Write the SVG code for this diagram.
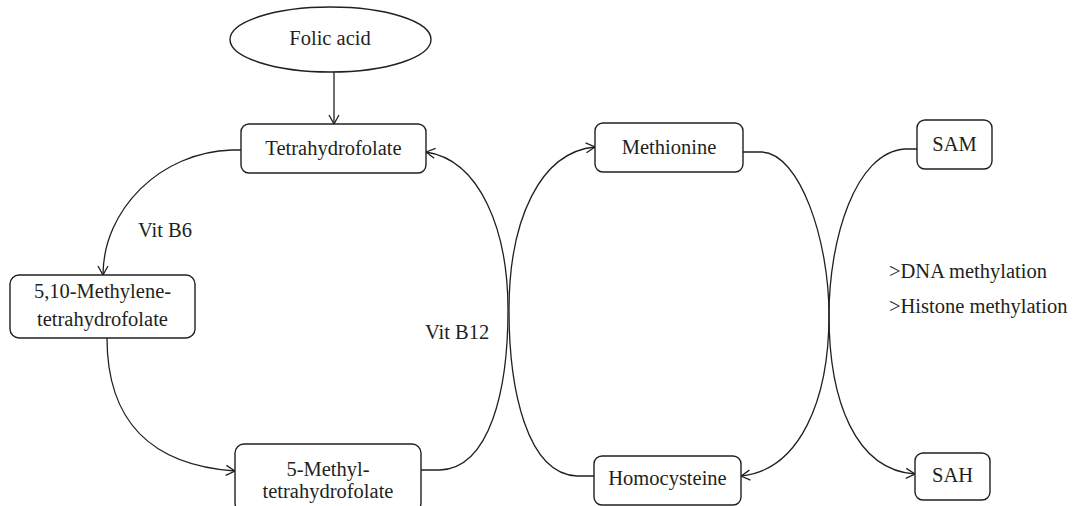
<svg xmlns="http://www.w3.org/2000/svg" width="1078" height="506" viewBox="0 0 1078 506">
  <defs>
    <style>
      .box { fill: #ffffff; stroke: #231f20; stroke-width: 1.4; }
      .edge { fill: none; stroke: #231f20; stroke-width: 1.3; }
      .lbl { font-family: "Liberation Serif", "Times New Roman", serif; font-size: 20.5px; fill: #231f20; }
      .c { text-anchor: middle; }
    </style>
    <marker id="arr" markerUnits="userSpaceOnUse" viewBox="0 0 10 12" markerWidth="10" markerHeight="12" refX="10" refY="6" orient="auto">
      <path d="M1,1 L10,6 L1,11" fill="none" stroke="#231f20" stroke-width="1.3"/>
    </marker>
  </defs>
  <rect width="1078" height="506" fill="#ffffff"/>

  <g id="connectors">
    <path class="edge" d="M334,72 L334,124" marker-end="url(#arr)"/>
    <path class="edge" d="M241,150 L232,150 C160,152 103,210 103,275" marker-end="url(#arr)"/>
    <path class="edge" d="M107,338 C107,420 150,465 235,471" marker-end="url(#arr)"/>
    <path class="edge" d="M421,470 L440,470 C490,468 508,390 508,310 C508,230 480,160 426,152" marker-end="url(#arr)"/>
    <path class="edge" d="M594,476 L577,476 C527,474 509,390 509,310 C509,220 540,152 595,147" marker-end="url(#arr)"/>
    <path class="edge" d="M743,152 L762,152 C800,154 829,240 829,315 C829,400 800,470 741,476" marker-end="url(#arr)"/>
    <path class="edge" d="M917,149 L905,149 C855,152 829,240 829,315 C829,400 855,470 915,474" marker-end="url(#arr)"/>
  </g>

  <g id="folic-acid">
    <ellipse class="box" cx="330.5" cy="39.5" rx="100.5" ry="32.5"/>
    <text class="lbl c" x="330" y="45">Folic acid</text>
  </g>
  <g id="tetrahydrofolate">
    <rect class="box" x="241" y="124" width="185" height="49" rx="8"/>
    <text class="lbl c" x="333.5" y="155">Tetrahydrofolate</text>
  </g>
  <g id="methylene-thf">
    <rect class="box" x="10" y="275" width="185" height="63" rx="9"/>
    <text class="lbl c" x="102.5" y="298">5,10-Methylene-</text>
    <text class="lbl c" x="102.5" y="326">tetrahydrofolate</text>
  </g>
  <g id="methyl-thf">
    <rect class="box" x="235" y="444" width="186" height="68" rx="9"/>
    <text class="lbl c" x="328" y="476">5-Methyl-</text>
    <text class="lbl c" x="328" y="498">tetrahydrofolate</text>
  </g>
  <g id="methionine">
    <rect class="box" x="595" y="123" width="148" height="49" rx="8"/>
    <text class="lbl c" x="669" y="154">Methionine</text>
  </g>
  <g id="homocysteine">
    <rect class="box" x="594" y="456" width="147" height="49" rx="8"/>
    <text class="lbl c" x="667.5" y="485">Homocysteine</text>
  </g>
  <g id="sam">
    <rect class="box" x="917" y="120" width="75" height="49" rx="8"/>
    <text class="lbl c" x="954.5" y="151">SAM</text>
  </g>
  <g id="sah">
    <rect class="box" x="915" y="453" width="75" height="47" rx="8"/>
    <text class="lbl c" x="952.5" y="482">SAH</text>
  </g>

  <g id="labels">
    <text class="lbl" x="138" y="237">Vit B6</text>
    <text class="lbl" x="425" y="339">Vit B12</text>
    <text class="lbl" x="889" y="278">&gt;DNA methylation</text>
    <text class="lbl" x="889" y="313">&gt;Histone methylation</text>
  </g>
</svg>
